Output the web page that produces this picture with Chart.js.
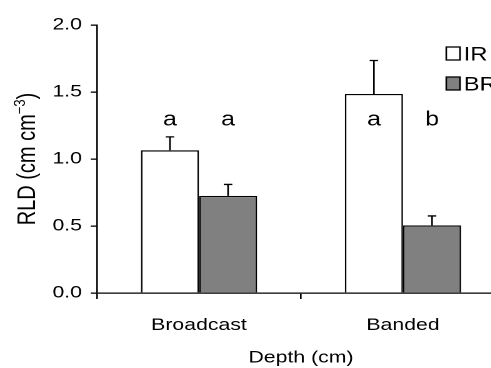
<!DOCTYPE html>
<html>
<head>
<meta charset="utf-8">
<script src="https://cdn.jsdelivr.net/npm/chart.js@4"></script>
<style>
  html, body { margin: 0; padding: 0; background: #fff; overflow: hidden; }
  #wrap { width: 491px; height: 368px; overflow: hidden; }
  /* the reference is stretched sideways, so the canvas is too */
  #chart { display: block; width: 404px; height: 368px; transform: scaleX(1.25); transform-origin: 0 0; }
</style>
</head>
<body>
<div id="wrap"><canvas id="chart" width="404" height="368"></canvas></div>
<script>
// --- Данные ---
const categories = ['Broadcast', 'Banded'];
const irValues = [1.065, 1.485];
const irErrors = [0.10, 0.25];
const brValues = [0.725, 0.505];
const brErrors = [0.085, 0.07];
const irLetters = ['a', 'a'];
const brLetters = ['a', 'b'];
const yTicks = [0, 0.5, 1.0, 1.5, 2.0];
const yTitle = ['RLD (cm cm', '\u22123', ')'];

const FONT = '"Liberation Sans", Arial, Helvetica, sans-serif';

// --- Планки ошибок, буквы, подпись оси Y и легенда ---
const extras = {
    id: 'extras',
    afterDatasetsDraw(chart) {
        const ctx = chart.ctx;
        const y = chart.scales.y;
        const area = chart.chartArea;
        ctx.save();
        ctx.strokeStyle = '#000';
        ctx.lineWidth = 1.3;
        chart.data.datasets.forEach((ds, i) => {
            const meta = chart.getDatasetMeta(i);
            meta.data.forEach((bar, j) => {
                const top = y.getPixelForValue(ds.data[j] + ds.errors[j]);
                ctx.beginPath();
                ctx.moveTo(bar.x, bar.y);
                ctx.lineTo(bar.x, top);
                ctx.moveTo(bar.x - 3.4, top);
                ctx.lineTo(bar.x + 3.4, top);
                ctx.stroke();

                ctx.fillStyle = '#000';
                ctx.font = '20px ' + FONT;
                ctx.textAlign = 'center';
                ctx.textBaseline = 'alphabetic';
                ctx.fillText(ds.letters[j], bar.x, y.getPixelForValue(1.25));
            });

            // legend
            const ly = 47 + i * 30;
            ctx.fillStyle = ds.backgroundColor;
            ctx.fillRect(357, ly, 11, 13);
            ctx.strokeRect(357, ly, 11, 13);
            ctx.fillStyle = '#000';
            ctx.font = '19px ' + FONT;
            ctx.textAlign = 'left';
            ctx.textBaseline = 'alphabetic';
            ctx.fillText(ds.label, 371, ly + 13.5);
        });

        // y title with a real superscript
        const big = '20px ' + FONT;
        const small = '13px ' + FONT;
        ctx.font = big;
        const w1 = ctx.measureText(yTitle[0]).width;
        const w3 = ctx.measureText(yTitle[2]).width;
        ctx.font = small;
        const w2 = ctx.measureText(yTitle[1]).width;
        const total = w1 + w2 + w3;
        ctx.translate(28, (area.top + area.bottom) / 2);
        ctx.rotate(-Math.PI / 2);
        ctx.fillStyle = '#000';
        ctx.textAlign = 'left';
        ctx.textBaseline = 'alphabetic';
        let x = -total / 2;
        ctx.font = big;
        ctx.fillText(yTitle[0], x, 0);
        x += w1;
        ctx.font = small;
        ctx.fillText(yTitle[1], x, -8);
        x += w2;
        ctx.font = big;
        ctx.fillText(yTitle[2], x, 0);
        ctx.restore();
    }
};

const axisFont = { family: FONT, size: 17 };

new Chart(document.getElementById('chart'), {
    type: 'bar',
    data: {
        labels: categories,
        datasets: [
            { label: 'IR', data: irValues, errors: irErrors, letters: irLetters,
              backgroundColor: '#ffffff', borderColor: '#000', borderWidth: 1.3 },
            { label: 'BR', data: brValues, errors: brErrors, letters: brLetters,
              backgroundColor: '#808080', borderColor: '#000', borderWidth: 1.3 }
        ]
    },
    options: {
        responsive: false,
        animation: false,
        devicePixelRatio: 2,
        layout: { padding: { top: 25, left: 0, right: 0, bottom: 0 } },
        datasets: { bar: { categoryPercentage: 0.57, barPercentage: 1.0 } },
        plugins: { legend: { display: false }, tooltip: { enabled: false } },
        scales: {
            x: {
                offset: true,
                grid: { offset: true, drawOnChartArea: false, drawTicks: true, tickLength: 6, color: '#000', lineWidth: 1.3 },
                border: { display: true, color: '#000', width: 1.3 },
                ticks: { color: '#000', font: axisFont, padding: 16, maxRotation: 0 },
                title: { display: true, text: 'Depth (cm)', color: '#000', font: axisFont, padding: { top: 0, bottom: 0 } },
                afterFit(s) { s.height = 75; }
            },
            y: {
                min: 0,
                max: 2,
                afterBuildTicks(s) { s.ticks = yTicks.map(v => ({ value: v })); },
                grid: { drawOnChartArea: false, drawTicks: true, tickLength: 5, color: '#000', lineWidth: 1.3 },
                border: { display: true, color: '#000', width: 1.3 },
                ticks: { color: '#000', font: axisFont, padding: 7, callback: v => Number(v).toFixed(1) },
                title: { display: false },
                afterFit(s) { s.width = 77.6; }
            }
        }
    },
    plugins: [extras]
});
</script>
</body>
</html>
